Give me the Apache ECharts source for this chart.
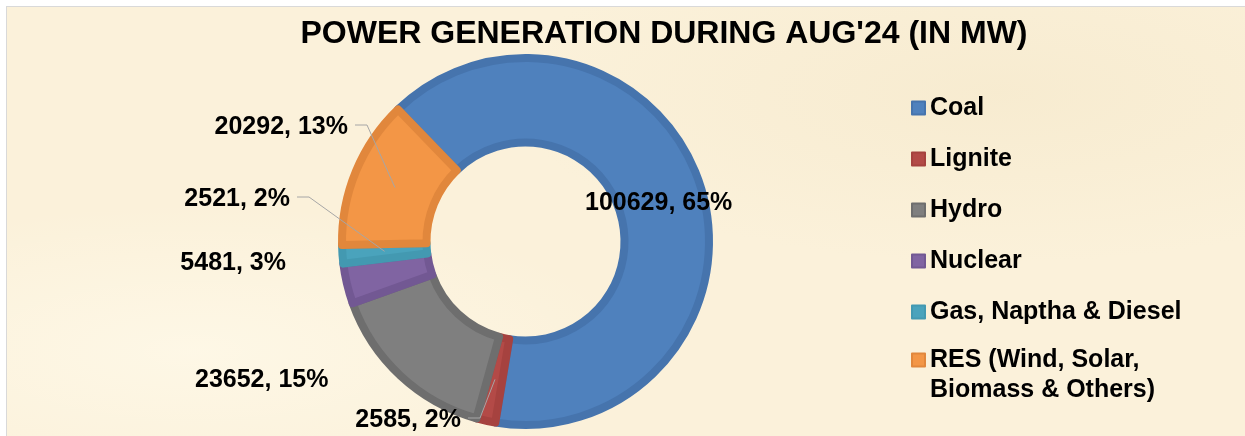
<!DOCTYPE html>
<html>
<head>
<meta charset="utf-8">
<title>Power generation during Aug'24</title>
<script src="https://cdn.jsdelivr.net/npm/echarts@6/dist/echarts.min.js"></script>
<style>
  html, body { margin: 0; padding: 0; background: #fff; overflow: hidden; }
  #chart {
    position: absolute; left: 6px; top: 6px;
    width: 1239px; height: 430px;
    border-top: 1px solid #d9d9d9; border-left: 1px solid #d9d9d9;
    background:
      radial-gradient(ellipse at 15% 80%, rgba(255, 250, 235, 0.7), rgba(255, 250, 235, 0) 30%),
      radial-gradient(ellipse at 80% 20%, rgba(240, 225, 190, 0.35), rgba(240, 225, 190, 0) 35%),
      #fbf1da;
  }
</style>
</head>
<body>
<div id="chart"></div>
<script>
// data
var categories = ['Coal', 'Lignite', 'Hydro', 'Nuclear', 'Gas, Naptha & Diesel', 'RES (Wind, Solar, Biomass & Others)'];
var values = [100629, 2585, 23652, 5481, 2521, 20292];

// styles
var fillColors = ['#4f81bd', '#b34a47', '#7f7f7f', '#8064a2', '#4aa3bc', '#f39646'];
var edgeColors = ['#4674ad', '#a6423f', '#6e6e6e', '#725893', '#4399b1', '#e1873c'];
var showLeader = [false, true, false, false, true, true];

var pieCenter = [518.5, 234.5];
var pieRadius = [99, 183.5];
var pieStart = 134;

var chart = echarts.init(document.getElementById('chart'));

// where each data label sits (chart pixels)
var labelSpots = [
  { x: 578, y: 196, align: 'left' },
  { x: 454, y: 413, align: 'right' },
  { x: 188, y: 373, align: 'left' },
  { x: 279, y: 256, align: 'right' },
  { x: 283, y: 192, align: 'right' },
  { x: 341, y: 120, align: 'right' }
];

// middle of the ring at the slice's mid angle (same start angle / direction as the pie)
function sliceAnchor(i) {
  var total = 0, before = 0;
  for (var k = 0; k < values.length; k++) {
    total += values[k];
    if (k < i) before += values[k];
  }
  var deg = pieStart - 360 * (before + values[i] / 2) / total;
  var rad = deg * Math.PI / 180;
  var rm = (pieRadius[0] + pieRadius[1]) / 2;
  return [pieCenter[0] + rm * Math.cos(rad), pieCenter[1] - rm * Math.sin(rad)];
}

var pieData = categories.map(function (name, i) {
  return {
    name: name,
    value: values[i],
    itemStyle: { color: fillColors[i], borderColor: edgeColors[i] }
  };
});

// leader lines, drawn on top of the slices
var leaders = [];
categories.forEach(function (name, i) {
  if (!showLeader[i]) return;
  var s = labelSpots[i];
  var gap = s.align === 'right' ? 1 : -1;
  leaders.push({
    type: 'polyline',
    z: 10,
    silent: true,
    shape: { points: [[s.x + 7 * gap, s.y - 2], [s.x + 19 * gap, s.y - 2], sliceAnchor(i)] },
    style: { stroke: '#a6a6a6', lineWidth: 1, fill: null }
  });
});

var legendText = {
  fontFamily: 'Liberation Sans, Arial, sans-serif',
  fontSize: 25,
  fontWeight: 'bold',
  lineHeight: 30,
  color: '#000'
};

var option = {
  animation: false,
  title: {
    text: "POWER GENERATION DURING AUG'24 (IN MW)",
    left: 657,
    top: 11,
    padding: 0,
    textAlign: 'center',
    textStyle: {
      fontFamily: 'Liberation Sans, Arial, sans-serif',
      fontSize: 32,
      fontWeight: 'bold',
      color: '#000'
    }
  },
  legend: [{
    orient: 'vertical',
    left: 904,
    top: 86,
    padding: 0,
    itemGap: 21,
    itemWidth: 13,
    itemHeight: 13,
    icon: 'rect',
    data: categories.slice(0, 5),
    textStyle: legendText
  }, {
    // the two-line entry, its square level with the first line
    orient: 'vertical',
    left: 904,
    top: 308,
    padding: 0,
    itemWidth: 13,
    itemHeight: 13,
    icon: 'rect',
    data: categories.slice(5),
    formatter: function (name) {
      return '\n' + name.replace('Solar, ', 'Solar,\n');
    },
    textStyle: legendText
  }],
  graphic: leaders,
  series: [{
    type: 'pie',
    center: pieCenter,
    radius: pieRadius,
    startAngle: pieStart,
    clockwise: true,
    avoidLabelOverlap: false,
    percentPrecision: 0,
    itemStyle: { borderWidth: 8 },
    emphasis: { disabled: true },
    label: {
      show: true,
      position: 'outside',
      fontFamily: 'Liberation Sans, Arial, sans-serif',
      fontSize: 25,
      fontWeight: 'bold',
      color: '#000',
      formatter: function (p) {
        return p.value + ', ' + p.percent + '%';
      }
    },
    labelLine: { show: false },
    labelLayout: function (params) {
      var s = labelSpots[params.dataIndex];
      return { x: s.x, y: s.y, align: s.align, verticalAlign: 'middle' };
    },
    data: pieData
  }]
};

chart.setOption(option);
</script>
</body>
</html>
